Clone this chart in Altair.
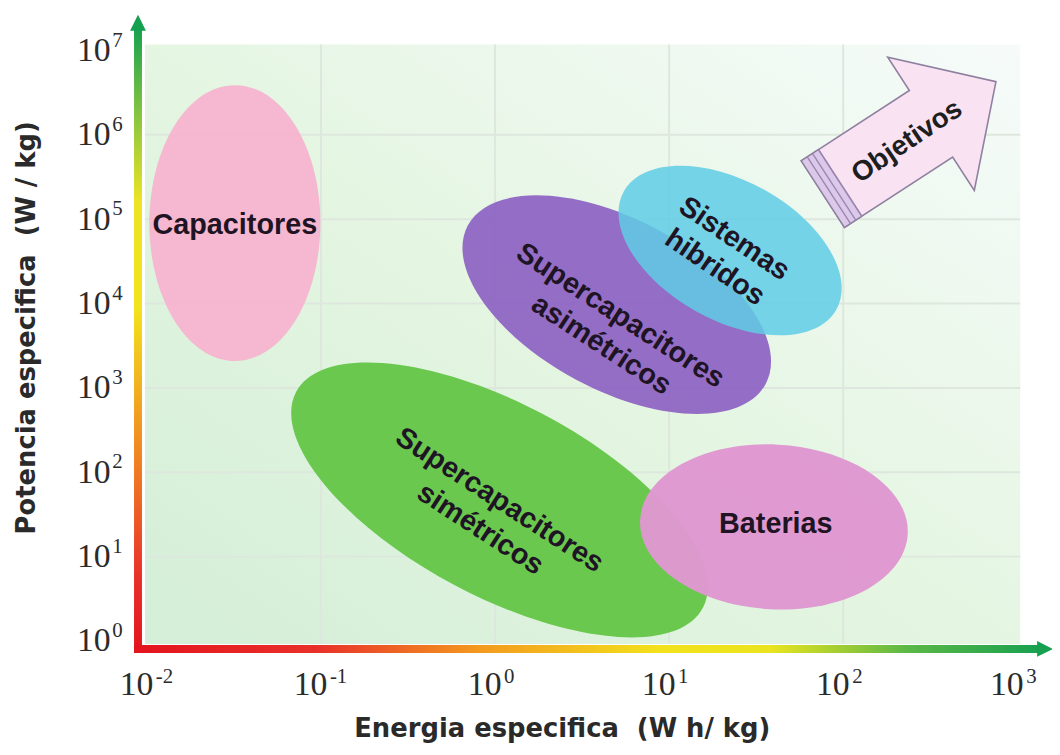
import altair as alt
import pandas as pd

# ---------------- data ----------------
region_names = ["Capacitores", "Supercapacitores simétricos", "Baterias",
                "Supercapacitores asimétricos", "Sistemas hibridos"]
region_energy = [0.032, 1.06, 40.0, 5.0, 22.4]        # W h / kg (centre of region)
region_power = [9.0e4, 47.0, 22.5, 9.7e3, 4.26e4]     # W / kg (centre of region)

label_text = ["Capacitores", "Supercapacitores\nsimétricos", "Baterias",
              "Supercapacitores\nasimétricos", "Sistemas\nhibridos"]
label_energy = [0.032, 1.06, 41.0, 5.25, 23.7]
label_power = [8.6e4, 47.0, 24.0, 7.2e3, 5.9e4]

goal_text = ["Objetivos"]
goal_energy = [240.0]
goal_power = [9.2e5]

x_ticks = [0.01, 0.1, 1, 10, 100, 1000]
x_exponents = ["-2", "-1", "0", "1", "2", "3"]
y_ticks = [1, 10, 100, 1e3, 1e4, 1e5, 1e6, 1e7]
y_exponents = ["0", "1", "2", "3", "4", "5", "6", "7"]
x_grid = [0.1, 1, 10, 100]
y_grid = [10, 100, 1e3, 1e4, 1e5, 1e6]

x_title = "Energia especifica\u00a0\u00a0(W h/ kg)"
y_title = "Potencia especifica\u00a0\u00a0(W / kg)"

# ---------------- styles ----------------
def ellipse(r):
    return f"M -1 0 A 1 {r} 0 1 0 1 0 A 1 {r} 0 1 0 -1 0 Z"

region_style = {
    "Capacitores": dict(path=ellipse(0.62), size=278 ** 2, angle=90,
                        fill="#f5b4cf", opacity=0.95),
    "Supercapacitores simétricos": dict(path=ellipse(0.418), size=464 ** 2, angle=28,
                                        fill="#66c64a", opacity=0.97),
    "Baterias": dict(path=ellipse(0.615), size=270 ** 2, angle=3,
                     fill="#df97d1", opacity=0.97),
    "Supercapacitores asimétricos": dict(path=ellipse(0.506), size=340 ** 2, angle=28,
                                         fill="#9168c4", opacity=0.97),
    "Sistemas hibridos": dict(path=ellipse(0.573), size=245 ** 2, angle=29,
                              fill="#5fcde5", opacity=0.85),
}
label_angle = {"Capacitores": 0, "Supercapacitores simétricos": 33, "Baterias": 0,
               "Supercapacitores asimétricos": 33, "Sistemas hibridos": 34}

W, H = 877, 595
xs = alt.Scale(type="log", domain=[0.01, 1000], nice=False)
ys = alt.Scale(type="log", domain=[1, 1e7], nice=False)

title_font = dict(titleFont="DejaVu Sans", titleFontSize=26, titleFontWeight="bold",
                  titleColor="#2a2a2a", titleBaseline="middle")
x_axis = alt.Axis(values=x_ticks, labelExpr="'10'", labelFont="Liberation Serif",
                  labelFontSize=34, labelColor="#2b2b2b", labelPadding=27, labelOffset=-11,
                  labelFlush=False, labelOverlap=False, ticks=False, tickSize=0,
                  domain=False, grid=False,
                  title=x_title, titleX=418, titleY=88, **title_font)
y_axis = alt.Axis(values=y_ticks, labelExpr="'10'", labelFont="Liberation Serif",
                  labelFontSize=34, labelColor="#2b2b2b", labelPadding=37,
                  labelFlush=False, labelOverlap=False, ticks=False, tickSize=0,
                  domain=False, grid=False,
                  title=y_title, titleAngle=270, titleX=-121, titleY=279,
                  titleAlign="center", **title_font)


def X(field):
    return alt.X(f"{field}:Q", scale=xs, axis=x_axis)


def Y(field):
    return alt.Y(f"{field}:Q", scale=ys, axis=y_axis)


def lin(stops, x1, y1, x2, y2):
    return alt.LinearGradient(gradient="linear",
                              stops=[alt.GradientStop(offset=o, color=c) for o, c in stops],
                              x1=x1, y1=y1, x2=x2, y2=y2)


one = pd.DataFrame({"k": [0]})
layers = []

# plot background
layers.append(alt.Chart(one).mark_rect(
    fill=lin([(0, "#d4eed8"), (0.45, "#e3f5e0"), (1, "#f6fbfa")], 0, 1, 1, 0)
).encode(x=alt.value(-2), x2=alt.value(W + 3), y=alt.value(-6), y2=alt.value(H + 3)))

# grid
layers.append(alt.Chart(pd.DataFrame({"g": x_grid})).mark_rule(color="#dde7dd", strokeWidth=2)
              .encode(x=X("g"), y=alt.value(-6), y2=alt.value(H + 3)))
layers.append(alt.Chart(pd.DataFrame({"g": y_grid})).mark_rule(color="#dde7dd", strokeWidth=2)
              .encode(y=Y("g"), x=alt.value(-2), x2=alt.value(W + 3)))

# regions
regions = pd.DataFrame({"region": region_names, "energy": region_energy, "power": region_power})
for name in region_names:
    st = region_style[name]
    layers.append(alt.Chart(regions[regions.region == name]).mark_point(
        shape=st["path"], size=st["size"], angle=st["angle"], filled=True,
        fill=st["fill"], opacity=st["opacity"], strokeWidth=0
    ).encode(x=X("energy"), y=Y("power")))

# region labels
labels = pd.DataFrame({"region": region_names, "text": label_text,
                       "energy": label_energy, "power": label_power})
for name in region_names:
    layers.append(alt.Chart(labels[labels.region == name]).mark_text(
        font="Liberation Sans", fontWeight="bold", fontSize=29, color="#1e1424",
        lineBreak="\n", lineHeight=35, angle=label_angle[name],
        align="center", baseline="middle"
    ).encode(x=X("energy"), y=Y("power"), text="text:N"))

# "Objetivos" arrow
goal = pd.DataFrame({"text": goal_text, "energy": goal_energy, "power": goal_power})
arrow_path = ("M -1 -0.385 L 0.25 -0.385 L 0.25 -0.77 L 1 0 L 0.25 0.77 "
              "L 0.25 0.385 L -1 0.385 Z")
band_path = "M -1 -0.385 L -0.8 -0.385 L -0.8 0.385 L -1 0.385 Z"
stripe_path = ("M -0.93 -0.385 L -0.93 0.385 M -0.87 -0.385 L -0.87 0.385 "
               "M -0.8 -0.385 L -0.8 0.385")
arrow_size, arrow_angle = 208 ** 2, 327
layers.append(alt.Chart(goal).mark_point(
    shape=arrow_path, size=arrow_size, angle=arrow_angle, filled=True,
    fill="#f9e3f3", stroke="#8f809f", strokeWidth=1.6, opacity=1
).encode(x=X("energy"), y=Y("power")))
layers.append(alt.Chart(goal).mark_point(
    shape=band_path, size=arrow_size, angle=arrow_angle, filled=True,
    fill="#dcc8e8", stroke="#8f809f", strokeWidth=1.4, opacity=1
).encode(x=X("energy"), y=Y("power")))
layers.append(alt.Chart(goal).mark_point(
    shape=stripe_path, size=arrow_size, angle=arrow_angle, filled=False,
    stroke="#9c86b4", strokeWidth=1.4, opacity=1
).encode(x=X("energy"), y=Y("power")))
layers.append(alt.Chart(goal).mark_text(
    font="Liberation Sans", fontWeight="bold", fontSize=28, color="#1e1e1e",
    angle=326, align="center", baseline="middle", dx=-4, dy=2
).encode(x=X("energy"), y=Y("power"), text="text:N"))

# gradient axis bars with arrow heads
layers.append(alt.Chart(one).mark_rect(
    fill=lin([(0, "#e3141e"), (0.12, "#e8302a"), (0.3, "#f07e22"), (0.55, "#f3e21c"),
              (0.72, "#ece424"), (0.86, "#86c440"), (1, "#13a04f")], 0, 1, 0, 0)
).encode(x=alt.value(-13), x2=alt.value(-5), y=alt.value(-24), y2=alt.value(H + 12)))
layers.append(alt.Chart(one).mark_rect(
    fill=lin([(0, "#e3141e"), (0.2, "#e8302a"), (0.38, "#f39a1e"), (0.58, "#f2e21c"),
              (0.7, "#e9e41f"), (0.85, "#5bb846"), (1, "#17a050")], 0, 0, 1, 0)
).encode(x=alt.value(-13), x2=alt.value(W + 26), y=alt.value(H + 4), y2=alt.value(H + 12)))
layers.append(alt.Chart(one).mark_point(
    shape="M 0 -1 L 1 1 L -1 1 Z", size=256, filled=True, fill="#15a04f", opacity=1
).encode(x=alt.value(-9), y=alt.value(-28)))
layers.append(alt.Chart(one).mark_point(
    shape="M 1 0 L -1 1 L -1 -1 Z", size=256, filled=True, fill="#17a050", opacity=1
).encode(x=alt.value(W + 28), y=alt.value(H + 8)))

# superscript exponents of the tick labels
layers.append(alt.Chart(pd.DataFrame({"v": x_ticks, "e": x_exponents})).mark_text(
    font="Liberation Serif", fontSize=21, color="#2b2b2b", align="left",
    baseline="alphabetic", dx=9
).encode(x=X("v"), y=alt.value(H + 42), text="e:N"))
layers.append(alt.Chart(pd.DataFrame({"v": y_ticks, "e": y_exponents})).mark_text(
    font="Liberation Serif", fontSize=21, color="#2b2b2b", align="left",
    baseline="middle", dy=-10
).encode(y=Y("v"), x=alt.value(-35), text="e:N"))

chart = alt.layer(*layers).properties(
    width=W, height=H,
    padding={"left": 140, "top": 40, "right": 35, "bottom": 104},
    autosize=alt.AutoSizeParams(type="none"),
    background="white",
).configure_view(stroke=None)

chart.save("out.html", embed_options={"renderer": "svg", "actions": False})
